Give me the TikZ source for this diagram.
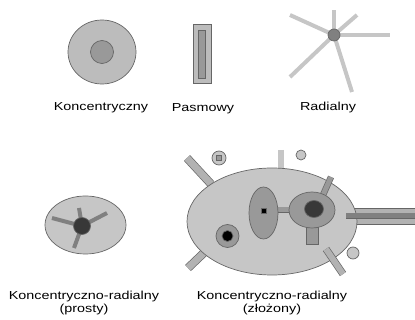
\documentclass[tikz,border=0pt]{standalone}
\usepackage{fontspec}
\setmainfont{Liberation Sans}
\usetikzlibrary{shapes.geometric,positioning}
\definecolor{pale}{HTML}{C6C6C6}
\definecolor{mid}{HTML}{999999}
\definecolor{deep}{HTML}{383838}
\definecolor{rim}{HTML}{666666}

\begin{document}
\begin{tikzpicture}[x=1pt, y=-1pt,
  blob/.style={draw=rim, fill=#1, ellipse, inner sep=0pt, line width=0.7pt},
  box/.style={draw=rim, fill=#1, rectangle, inner sep=0pt, line width=0.7pt},
  ray/.style={line width=4pt, draw=#1},
  bar/.style 2 args={draw=rim, double=#1, double distance=#2, line width=0.7pt},
  lbl/.style={font=\fontsize{11.6}{13}\selectfont, align=center,
              xscale=1.24, transform shape}
]
  \useasboundingbox (0,0) rectangle (415,320);

  % Koncentryczny
  \node[blob=pale!95!black, minimum width=68, minimum height=64] (konc) at (102,52) {};
  \node[blob=mid, minimum size=23] (koncCore) at (102,52) {};
  \node[lbl] (koncLbl) at (101,108) {Koncentryczny};

  % Pasmowy
  \node[box=pale!95!black, minimum width=18, minimum height=59] (pasm) at (202,53.5) {};
  \node[box=mid, minimum width=7, minimum height=48] (pasmCore) at (201.5,54) {};
  \node[lbl] (pasmLbl) at (203,109) {Pasmowy};

  % Radialny
  \coordinate (rad) at (334,35);
  \foreach \tip in {(290,15),(334,10),(357,15),(390,35),(352,92),(290,77)}
    \draw[ray=pale] (rad) -- \tip;
  \node[blob=gray, minimum size=12] (radCore) at (rad) {};
  \node[lbl] (radLbl) at (328,108) {Radialny};

  % Koncentryczno-radialny (prosty)
  \node[blob=pale, minimum width=81, minimum height=58] (prosty) at (85.5,225) {};
  \coordinate (pc) at (82,226);
  \foreach \tip in {(52,218),(79,208),(107,213),(74,248)}
    \draw[ray=gray] (pc) -- \tip;
  \node[blob=deep, minimum size=17] (prostyCore) at (pc) {};
  \node[lbl] (prostyLbl) at (84,303.5) {Koncentryczno-radialny\\(prosty)};

  % Koncentryczno-radialny (zlozony): bars under the body
  \draw[bar={pale!90!black}{7pt}] (187,158) -- (211,184);
  \draw[bar={pale!90!black}{7pt}] (188,268) -- (210,247);
  \draw[line width=6pt, draw=pale] (281,150) -- (281,172);
  \node[box=pale!90!black, minimum width=64, minimum height=16] (tail) at (384,216) {};
  \node[blob=pale, minimum width=170, minimum height=107] (zloz) at (272,221.5) {};

  % bars over the body
  \draw[bar={mid}{5pt}] (331,177) -- (323,195);
  \draw[bar={pale!90!black}{6pt}] (326,249) -- (343,274);
  \draw[bar={mid}{5pt}] (276,210) -- (292,210);
  \node[box=mid, minimum width=12, minimum height=17] (stem) at (312,235.5) {};

  % inner lobes
  \node[blob=mid, minimum width=29, minimum height=52] (lobe) at (263.5,213) {};
  \node[box=black, minimum size=5] (lobeDot) at (264,211) {};
  \node[blob=mid, minimum width=46, minimum height=36] (head) at (312,210) {};
  \node[blob=deep, minimum width=19, minimum height=17] (headCore) at (314,209) {};
  \node[blob=mid, minimum size=23] (ring) at (227.5,236) {};
  \node[blob=black, minimum size=11] (ringCore) at (227.5,236) {};
  \draw[bar={gray}{5pt}] (346,216) -- (415.5,216);

  % satellites
  \node[blob=pale, minimum size=14] (satA) at (219,158) {};
  \node[box=mid, minimum size=5] (satADot) at (219,158) {};
  \node[blob=pale, minimum size=10] (satB) at (301,155) {};
  \node[blob=pale, minimum size=12] (satC) at (353,253) {};

  \node[lbl] (zlozLbl) at (272,303.5) {Koncentryczno-radialny\\(złożony)};
\end{tikzpicture}
\end{document}
